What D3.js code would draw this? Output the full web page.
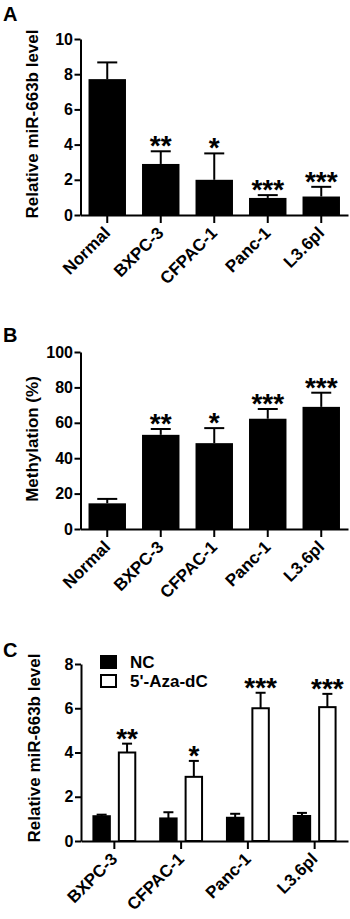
<!DOCTYPE html>
<html><head><meta charset="utf-8">
<script src="https://cdn.jsdelivr.net/npm/d3@7"></script>
<style>
html,body{margin:0;padding:0;background:#fff;}
svg{display:block;font-family:"Liberation Sans",Arial,sans-serif;font-weight:bold;}
</style></head>
<body>
<svg id="chart" width="350" height="919"></svg>
<script>
// ---- Data ----
const cellLinesAB = ["Normal", "BXPC-3", "CFPAC-1", "Panc-1", "L3.6pl"];
const mirLevelA = [7.72, 2.9, 2.0, 0.97, 1.05];
const mirErrA   = [0.95, 0.72, 1.5, 0.16, 0.55];
const starsA    = ["", "**", "*", "***", "***"];
const yTicksA   = [0, 2, 4, 6, 8, 10];

const methylB   = [14.5, 53.2, 48.5, 62.3, 69.0];
const methylErrB= [2.5, 3.3, 8.5, 5.5, 8.0];
const starsB    = ["", "**", "*", "***", "***"];
const yTicksB   = [0, 20, 40, 60, 80, 100];

const cellLinesC = ["BXPC-3", "CFPAC-1", "Panc-1", "L3.6pl"];
const seriesC    = ["NC", "5'-Aza-dC"];
const ncC        = [1.12, 1.02, 1.05, 1.13];
const ncErrC     = [0.07, 0.28, 0.18, 0.14];
const azaC       = [4.0, 2.9, 6.0, 6.05];
const azaErrC    = [0.4, 0.72, 0.7, 0.6];
const starsC     = ["**", "*", "***", "***"];
const yTicksC    = [0, 2, 4, 6, 8];

const svg = d3.select("#chart");
const FONT = '"Liberation Sans",Arial,sans-serif';

function axes(g, x, y, yTicks, yLabel, yLabelCenter, axisY, xLabels) {
  const ya = g.append("g").attr("transform", `translate(${x.range()[0]},0)`)
    .call(d3.axisLeft(y).tickValues(yTicks).tickSize(6).tickSizeOuter(0).tickPadding(1.5));
  ya.select(".domain").attr("stroke-width", 2);
  ya.selectAll(".tick line").attr("stroke-width", 2);
  ya.selectAll("text").attr("font-size", 16).attr("font-weight", "bold")
    .attr("font-family", FONT).attr("fill", "#000");

  const xa = g.append("g").attr("transform", `translate(0,${axisY})`)
    .call(d3.axisBottom(x).tickSize(8).tickSizeOuter(0).tickFormat(""));
  xa.select(".domain").attr("stroke-width", 2);
  xa.selectAll(".tick line").attr("stroke-width", 2);
  xa.selectAll(".tick text").remove();

  g.selectAll("text.xl").data(xLabels.domainVals).enter().append("text")
    .attr("class", "xl")
    .attr("font-size", 17)
    .attr("text-anchor", "end")
    .attr("transform", d => `translate(${xLabels.pos(d) + 4},${axisY + 19}) rotate(-45)`)
    .text(d => d);

  g.append("text")
    .attr("font-size", 17)
    .attr("text-anchor", "middle")
    .attr("transform", `translate(${yLabelCenter[0]},${yLabelCenter[1]}) rotate(-90)`)
    .text(yLabel);
}

function errorBar(g, cx, yTop, yErr, cap) {
  g.append("line").attr("x1", cx).attr("x2", cx).attr("y1", yTop).attr("y2", yErr)
    .attr("stroke", "#000").attr("stroke-width", 2);
  g.append("line").attr("x1", cx - cap / 2).attr("x2", cx + cap / 2).attr("y1", yErr).attr("y2", yErr)
    .attr("stroke", "#000").attr("stroke-width", 2);
}

function panel(letter, letterY, cats, vals, errs, stars, yTicks, yMax, top, bottom, yLabel, yLabelCenter) {
  const g = svg.append("g");
  const x = d3.scaleBand().domain(cats).range([80.5, 348]).paddingInner(0.3).paddingOuter(0.15);
  const y = d3.scaleLinear().domain([0, yMax]).range([bottom, top]);
  g.append("text").attr("x", 3).attr("y", letterY).attr("font-size", 20).text(letter);
  cats.forEach((c, i) => {
    const cx = x(c) + x.bandwidth() / 2;
    errorBar(g, cx, y(vals[i]), y(vals[i] + errs[i]), 20);
    g.append("rect").attr("x", x(c)).attr("width", x.bandwidth())
      .attr("y", y(vals[i])).attr("height", y(0) - y(vals[i])).attr("fill", "#000");
    if (stars[i]) g.append("text").attr("x", cx).attr("y", y(vals[i] + errs[i]) + 4)
      .attr("text-anchor", "middle").attr("font-size", 28).text(stars[i]);
  });
  axes(g, x, y, yTicks, yLabel, yLabelCenter, bottom,
    { domainVals: cats, pos: d => x(d) + x.bandwidth() / 2 });
}

panel("A", 21, cellLinesAB, mirLevelA, mirErrA, starsA, yTicksA, 10, 39, 215,
  "Relative miR-663b level", [38, 124]);
panel("B", 342, cellLinesAB, methylB, methylErrB, starsB, yTicksB, 100, 352, 529,
  "Methylation (%)", [38, 439]);

// Panel C
(function () {
  const g = svg.append("g");
  const top = 664, bottom = 841;
  const x0 = d3.scaleBand().domain(cellLinesC).range([81, 348]).paddingInner(0.343).paddingOuter(0.171);
  const x1 = d3.scaleBand().domain(seriesC).range([0, x0.bandwidth()]).paddingInner(0.275);
  const y = d3.scaleLinear().domain([0, 8]).range([bottom, top]);
  g.append("text").attr("x", 3).attr("y", 657).attr("font-size", 20).text("C");
  const series = [
    { name: seriesC[0], vals: ncC, errs: ncErrC, fill: "#000" },
    { name: seriesC[1], vals: azaC, errs: azaErrC, fill: "#fff" }
  ];
  cellLinesC.forEach((c, i) => {
    series.forEach(s => {
      const bx = x0(c) + x1(s.name);
      const cx = bx + x1.bandwidth() / 2;
      errorBar(g, cx, y(s.vals[i]), y(s.vals[i] + s.errs[i]), 10);
      g.append("rect").attr("x", bx + 1).attr("width", x1.bandwidth() - 2)
        .attr("y", y(s.vals[i])).attr("height", y(0) - y(s.vals[i]))
        .attr("fill", s.fill).attr("stroke", "#000").attr("stroke-width", 2);
    });
    const cx = x0(c) + x1(seriesC[1]) + x1.bandwidth() / 2;
    g.append("text").attr("x", cx).attr("y", y(azaC[i] + azaErrC[i]) + 4)
      .attr("text-anchor", "middle").attr("font-size", 28).text(starsC[i]);
  });
  // legend
  const lg = g.append("g");
  series.forEach((s, k) => {
    lg.append("rect").attr("x", 101).attr("y", 656 + k * 19).attr("width", 15).attr("height", 12)
      .attr("fill", s.fill).attr("stroke", "#000").attr("stroke-width", 2);
    lg.append("text").attr("x", 130).attr("y", 668 + k * 19).attr("font-size", 17).text(s.name);
  });
  axes(g, x0, y, yTicksC, "Relative miR-663b level", [40, 748], bottom,
    { domainVals: cellLinesC, pos: d => x0(d) + x0.bandwidth() / 2 });
})();
</script>
</body></html>
